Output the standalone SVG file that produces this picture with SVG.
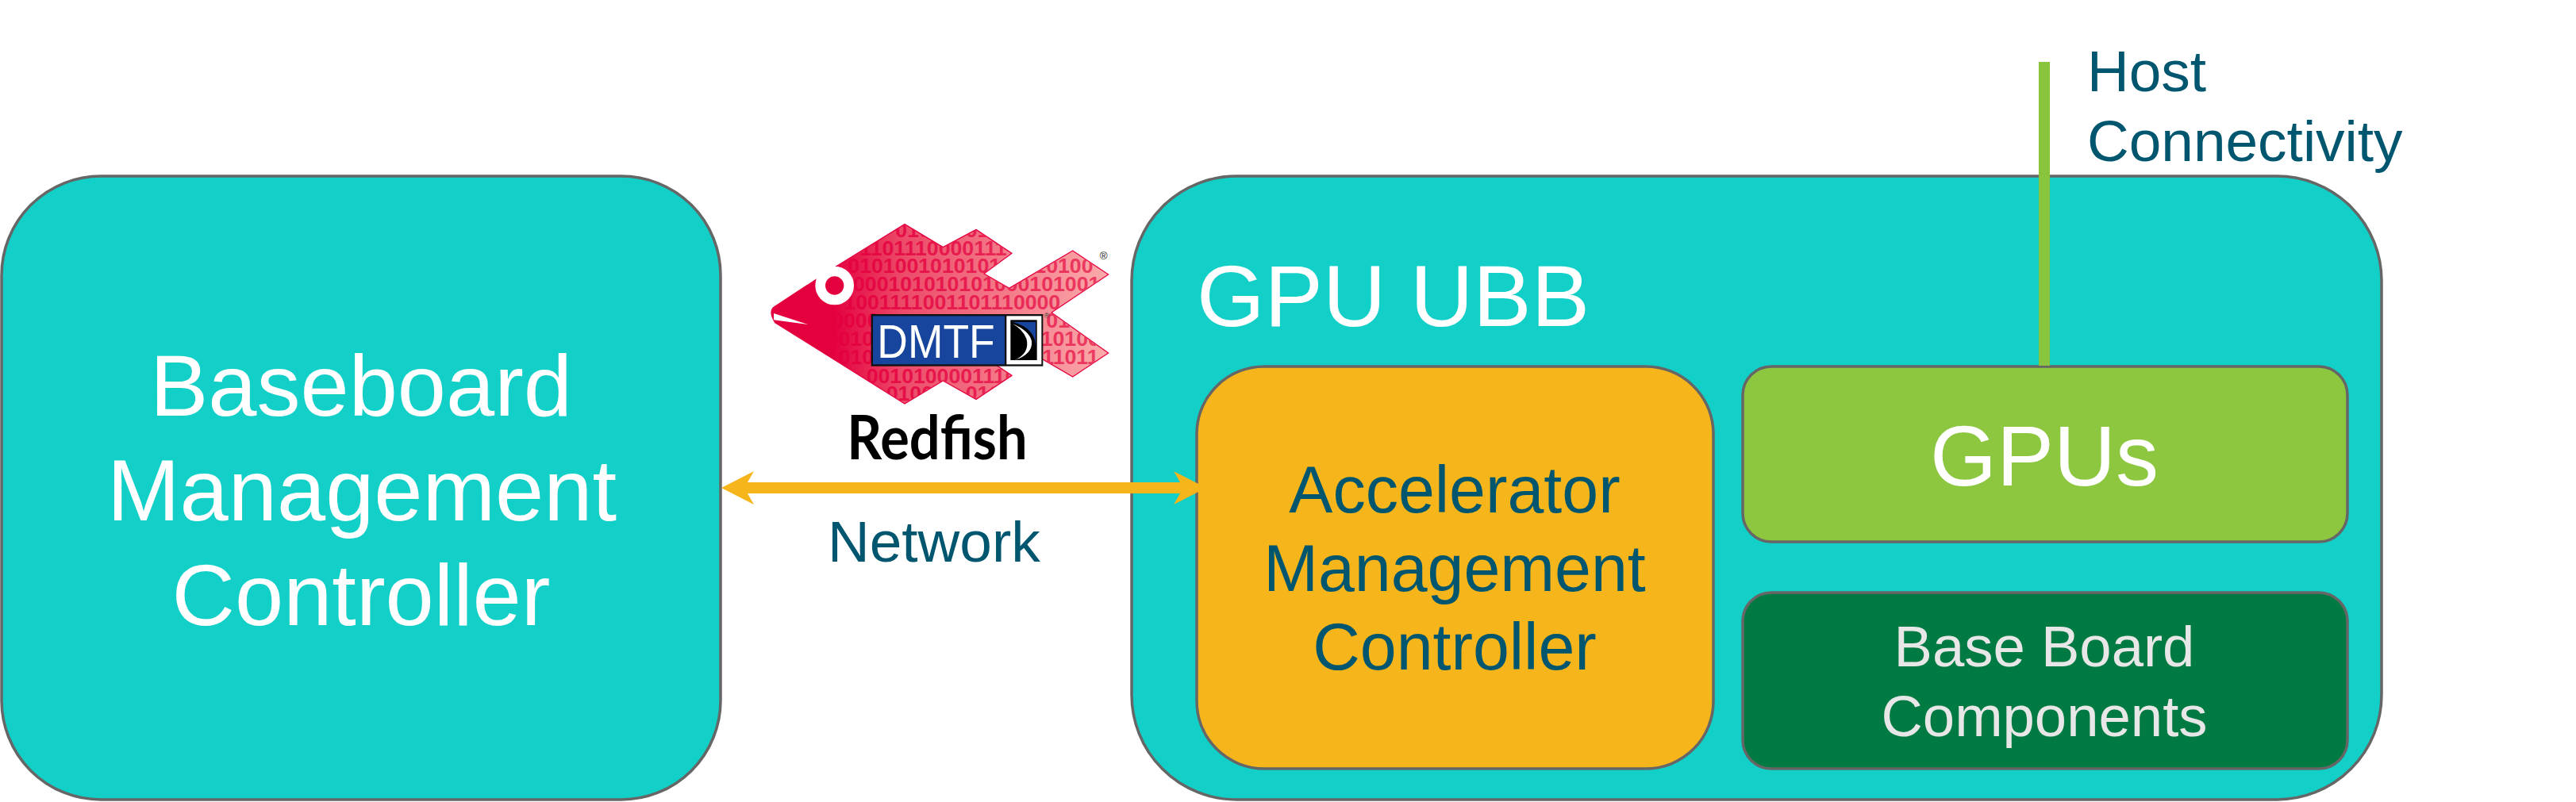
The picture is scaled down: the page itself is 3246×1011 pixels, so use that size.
<svg xmlns="http://www.w3.org/2000/svg" width="3246" height="1011" viewBox="0 0 3246 1011">
<style>
text{font-family:"Liberation Sans",Arial,sans-serif}
.box{stroke:#666;stroke-width:3.5}
.teal{fill:#12cfc8}
.w{fill:#fff}
.d{fill:#00566f}
.m{text-anchor:middle}
</style>
<defs>
<marker id="head" markerUnits="userSpaceOnUse" viewBox="0 0 41 42" refX="20" refY="21" markerWidth="41" markerHeight="42" orient="auto-start-reverse"><polygon points="0,0 41,21 0,42 12,21" fill="#f6b51b"/></marker>
<linearGradient id="fishg" gradientUnits="userSpaceOnUse" x1="300" y1="0" x2="1340" y2="0"><stop offset="0" stop-color="#e4003f"/><stop offset=".25" stop-color="#ec4a68"/><stop offset="1" stop-color="#fbabab"/></linearGradient>
<linearGradient id="digg" gradientUnits="userSpaceOnUse" x1="330" y1="0" x2="1340" y2="0"><stop offset="0" stop-color="#e4003f"/><stop offset="1" stop-color="#ec3f62"/></linearGradient>
<clipPath id="fishc"><path d="M75 382 L310 228 L570 68 L715 155 L840 88 L975 178 L870 255 L965 310 L1205 168 L1340 258 L1125 402 L1340 555 L1205 645 L1085 575 L870 570 L975 640 L840 730 L715 660 L570 747 L80 440 Q55 400 75 382Z"/></clipPath>
</defs>
<g id="bmc"><rect class="box teal" x="2" y="222" width="906" height="786" rx="125" ry="125"/>
<text class="w m" font-size="110" x="455" y="524">Baseboard</text><text class="w m" font-size="110" x="456" y="656">Management</text><text class="w m" font-size="110" x="455" y="788">Controller</text></g>
<g id="ubb"><rect class="box teal" x="1426" y="222" width="1575" height="786" rx="132" ry="132"/>
<text class="w" font-size="110" x="1508" y="411">GPU UBB</text></g>
<g id="amc"><rect class="box" fill="#f6b51b" x="1508" y="462" width="651" height="507" rx="85" ry="85"/>
<text class="d m" font-size="82.5" x="1833" y="646">Accelerator</text><text class="d m" font-size="82.5" x="1833" y="745">Management</text><text class="d m" font-size="82.5" x="1833" y="844">Controller</text></g>
<g id="gpus"><rect class="box" fill="#8dc63f" x="2196" y="462" width="762" height="221" rx="36" ry="36"/>
<text class="w m" font-size="108" x="2576" y="612">GPUs</text></g>
<g id="components"><rect class="box" fill="#007a43" x="2196" y="747" width="762" height="222" rx="36" ry="36"/>
<text class="m" fill="#e7e7e7" font-size="72.5" x="2576" y="840">Base Board</text><text class="m" fill="#e7e7e7" font-size="72.5" x="2576" y="928">Components</text></g>
<g id="connectors">
<line x1="930" y1="615" x2="1499" y2="615" stroke="#f6b51b" stroke-width="14" marker-start="url(#head)" marker-end="url(#head)"/>
<line x1="2576" y1="78" x2="2576" y2="461" stroke="#88c43c" stroke-width="14"/>
</g>
<g id="labels"><text class="d" font-size="73" x="1043" y="708">Network</text>
<text class="d" font-size="73" x="2630" y="115">Host</text><text class="d" font-size="73" x="2630" y="203">Connectivity</text></g>
<g id="redfish-logo" transform="translate(950 260) scale(.33333)">
<path d="M75 382 L310 228 L570 68 L715 155 L840 88 L975 178 L870 255 L965 310 L1205 168 L1340 258 L1125 402 L1340 555 L1205 645 L1085 575 L870 570 L975 640 L840 730 L715 660 L570 747 L80 440 Q55 400 75 382Z" fill="url(#fishg)" stroke="#e4003f" stroke-width="4" stroke-linejoin="round"/>
<g clip-path="url(#fishc)" font-size="80" font-weight="700" fill="url(#digg)">
<text x="535" y="118">0100</text><text x="800" y="118">01</text>
<text x="400" y="185">1101110000111</text>
<text x="355" y="252">0101001010101</text><text x="1060" y="252">10100</text>
<text x="375" y="320">000101010101000101001000</text>
<text x="340" y="390">1001111001101110000</text>
<text x="250" y="460">10000</text><text x="1105" y="460">01</text>
<text x="275" y="527">0010</text><text x="1085" y="527">10100</text>
<text x="320" y="597">010</text><text x="1090" y="597">11011</text>
<text x="425" y="668">0010100001110</text>
<text x="500" y="735">0100</text><text x="800" y="735">0100</text>
</g>
<polygon points="75,405 205,447 75,430" fill="#fff"/>
<circle cx="305" cy="300" r="54" fill="#e4003f" stroke="#fff" stroke-width="38"/>
<rect x="443" y="408" width="650" height="197" fill="#111"/>
<rect x="450" y="415" width="498" height="183" fill="#17449c"/>
<rect x="955" y="415" width="132" height="183" fill="#fff"/>
<rect x="970" y="430" width="100" height="152" fill="#000"/>
<path d="M975 437H1065V530Q1065 460 975 437Z" fill="#17449c"/>
<path d="M978 445Q1040 470 1050 510Q1055 560 985 582Q1045 555 1030 500Q1015 465 978 445Z" fill="#fff"/>
<text x="466" y="572" font-size="176" fill="#fff" textLength="445" lengthAdjust="spacingAndGlyphs">DMTF</text>
<text x="1322" y="200" font-size="40" class="m" fill="#222">®</text>
<text x="1107" y="424" font-size="28" class="m" fill="#444">®</text>
<text x="352" y="958" font-size="228" style="font-family:Lato,'Liberation Sans',sans-serif;font-weight:700" fill="#000" textLength="682" lengthAdjust="spacingAndGlyphs">Redfish</text>
</g>
</svg>
